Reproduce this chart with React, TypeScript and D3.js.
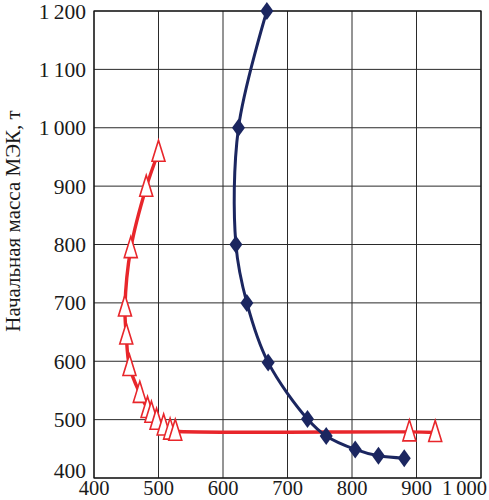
import React from "react";
import { scaleLinear, line, curveCatmullRom } from "d3";

// blue curve (diamonds)
const blueX = [668, 624, 620, 637, 670, 731, 760, 805, 841, 881];
const blueMass = [1200, 1000, 800, 700, 598, 501, 472, 449, 438, 434];

// red curve (open triangles)
const redX = [500, 481, 457, 448, 450, 455, 471, 483, 489, 497, 508, 518, 526, 889, 929];
const redMass = [958, 898, 793, 693, 645, 591, 545, 519, 511, 499, 489, 482, 480, 479, 478];

const xTicks = [400, 500, 600, 700, 800, 900, 1000];
const yTicks = [400, 500, 600, 700, 800, 900, 1000, 1100, 1200];
const yTitle = "Начальная масса МЭК, т";

const W = 489;
const H = 500;
const left = 94;
const right = 481;
const top = 11;
const bottom = 478;

const fmt = (v: number) => (v >= 1000 ? `${Math.floor(v / 1000)}\u2009${String(v % 1000).padStart(3, "0")}` : `${v}`);

export default function App() {
  const x = scaleLinear().domain([400, 1000]).range([left, right]);
  const y = scaleLinear().domain([400, 1200]).range([bottom, top]);

  const blue = blueX.map((v, i) => [x(v), y(blueMass[i])] as [number, number]);
  const red = redX.map((v, i) => [x(v), y(redMass[i])] as [number, number]);
  const path = line().curve(curveCatmullRom.alpha(0.5));

  const font = "'Liberation Serif', 'DejaVu Serif', serif";

  return (
    <svg width={W} height={H} style={{ position: "absolute", left: 0, top: 0, background: "#fff" }}>
      {/* grid */}
      {xTicks.map((t) => (
        <line key={"gx" + t} x1={x(t)} x2={x(t)} y1={top} y2={bottom} stroke="#2a2a2a" strokeWidth={1} />
      ))}
      {yTicks.map((t) => (
        <line key={"gy" + t} x1={left} x2={right} y1={y(t)} y2={y(t)} stroke="#2a2a2a" strokeWidth={1} />
      ))}
      <rect x={left} y={top} width={right - left} height={bottom - top} fill="none" stroke="#111" strokeWidth={1.2} />

      {/* tick labels */}
      {yTicks.map((t) => (
        <text
          key={"ty" + t}
          x={86}
          y={Math.min(y(t), 470)}
          dy="0.35em"
          textAnchor="end"
          fontFamily={font}
          fontSize={21.5}
          fill="#1a1a1a"
        >
          {fmt(t)}
        </text>
      ))}
      {xTicks.map((t) => (
        <text
          key={"tx" + t}
          x={t === 1000 ? 487 : x(t)}
          y={495}
          textAnchor={t === 1000 ? "end" : "middle"}
          fontFamily={font}
          fontSize={20.5}
          fill="#1a1a1a"
        >
          {fmt(t)}
        </text>
      ))}

      <text
        transform={`translate(20, 221) rotate(-90)`}
        textAnchor="middle"
        fontFamily={font}
        fontSize={21}
        fill="#1a1a1a"
      >
        {yTitle}
      </text>

      {/* red series */}
      <path d={path(red) || ""} fill="none" stroke="#e8262b" strokeWidth={3.4} />
      {red.map(([px, py], i) => (
        <path
          key={"r" + i}
          d={`M${px},${py - 12}L${px + 6.5},${py + 9}L${px - 6.5},${py + 9}Z`}
          fill="#fff"
          stroke="#e8262b"
          strokeWidth={1.6}
        />
      ))}

      {/* blue series */}
      <path d={path(blue) || ""} fill="none" stroke="#1b2660" strokeWidth={3} />
      {blue.map(([px, py], i) => (
        <path
          key={"b" + i}
          d={`M${px},${py - 9}L${px + 6.5},${py}L${px},${py + 9}L${px - 6.5},${py}Z`}
          fill="#1b2660"
        />
      ))}
    </svg>
  );
}
